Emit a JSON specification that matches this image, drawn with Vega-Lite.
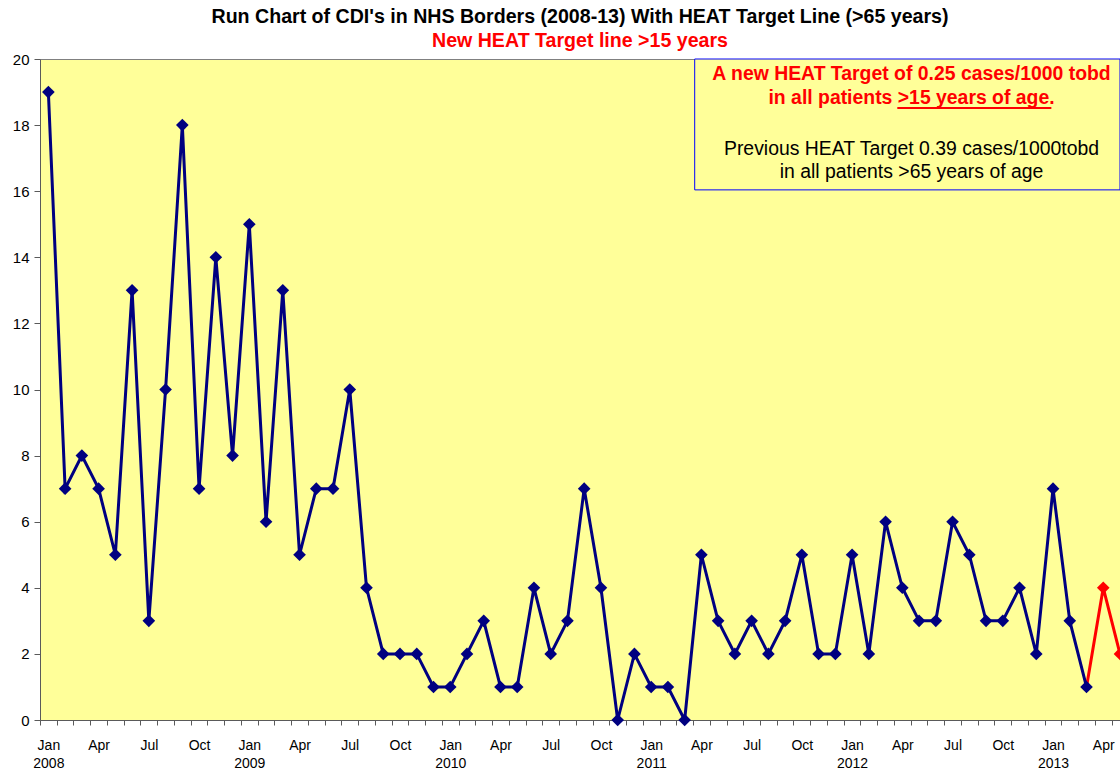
{
  "$schema": "https://vega.github.io/schema/vega-lite/v6.json",
  "width": 1080,
  "height": 661,
  "autosize": {"type": "none"},
  "padding": {"left": 40, "top": 59, "right": 0, "bottom": 50},
  "background": "white",
  "config": {
    "font": "Liberation Sans",
    "view": {"fill": "#FFFF99", "stroke": "#808080", "strokeWidth": 1},
    "axisX": {
      "title": null,
      "grid": false,
      "tickOffset": -8.37,
      "labelOffset": 8.37,
      "tickSize": 5,
      "tickColor": "#5a5a5a",
      "domainColor": "#5a5a5a",
      "labelFontSize": 14,
      "labelColor": "#000000",
      "labelPadding": 13,
      "labelLineHeight": 18,
      "labelOverlap": false,
      "labelFlush": false,
      "labelBound": false
    },
    "axisY": {
      "title": null,
      "grid": false,
      "tickSize": 6,
      "tickColor": "#5a5a5a",
      "domainColor": "#5a5a5a",
      "labelFontSize": 15,
      "labelColor": "#000000",
      "labelPadding": 5,
      "labelOverlap": false
    }
  },
  "title": {
    "text": "Run Chart of CDI's in NHS Borders (2008-13) With HEAT Target Line (>65 years)",
    "subtitle": "New HEAT Target line >15 years",
    "fontSize": 19.6,
    "fontWeight": "bold",
    "color": "#000000",
    "subtitleColor": "#FF0000",
    "subtitleFontSize": 19.6,
    "subtitleFontWeight": "bold",
    "subtitlePadding": 5,
    "anchor": "middle",
    "offset": 0
  },
  "datasets": {
    "cdi": [
      {"month": "2008-01", "month_index": 0, "cases": 19, "phase": "previous"},
      {"month": "2008-02", "month_index": 1, "cases": 7, "phase": "previous"},
      {"month": "2008-03", "month_index": 2, "cases": 8, "phase": "previous"},
      {"month": "2008-04", "month_index": 3, "cases": 7, "phase": "previous"},
      {"month": "2008-05", "month_index": 4, "cases": 5, "phase": "previous"},
      {"month": "2008-06", "month_index": 5, "cases": 13, "phase": "previous"},
      {"month": "2008-07", "month_index": 6, "cases": 3, "phase": "previous"},
      {"month": "2008-08", "month_index": 7, "cases": 10, "phase": "previous"},
      {"month": "2008-09", "month_index": 8, "cases": 18, "phase": "previous"},
      {"month": "2008-10", "month_index": 9, "cases": 7, "phase": "previous"},
      {"month": "2008-11", "month_index": 10, "cases": 14, "phase": "previous"},
      {"month": "2008-12", "month_index": 11, "cases": 8, "phase": "previous"},
      {"month": "2009-01", "month_index": 12, "cases": 15, "phase": "previous"},
      {"month": "2009-02", "month_index": 13, "cases": 6, "phase": "previous"},
      {"month": "2009-03", "month_index": 14, "cases": 13, "phase": "previous"},
      {"month": "2009-04", "month_index": 15, "cases": 5, "phase": "previous"},
      {"month": "2009-05", "month_index": 16, "cases": 7, "phase": "previous"},
      {"month": "2009-06", "month_index": 17, "cases": 7, "phase": "previous"},
      {"month": "2009-07", "month_index": 18, "cases": 10, "phase": "previous"},
      {"month": "2009-08", "month_index": 19, "cases": 4, "phase": "previous"},
      {"month": "2009-09", "month_index": 20, "cases": 2, "phase": "previous"},
      {"month": "2009-10", "month_index": 21, "cases": 2, "phase": "previous"},
      {"month": "2009-11", "month_index": 22, "cases": 2, "phase": "previous"},
      {"month": "2009-12", "month_index": 23, "cases": 1, "phase": "previous"},
      {"month": "2010-01", "month_index": 24, "cases": 1, "phase": "previous"},
      {"month": "2010-02", "month_index": 25, "cases": 2, "phase": "previous"},
      {"month": "2010-03", "month_index": 26, "cases": 3, "phase": "previous"},
      {"month": "2010-04", "month_index": 27, "cases": 1, "phase": "previous"},
      {"month": "2010-05", "month_index": 28, "cases": 1, "phase": "previous"},
      {"month": "2010-06", "month_index": 29, "cases": 4, "phase": "previous"},
      {"month": "2010-07", "month_index": 30, "cases": 2, "phase": "previous"},
      {"month": "2010-08", "month_index": 31, "cases": 3, "phase": "previous"},
      {"month": "2010-09", "month_index": 32, "cases": 7, "phase": "previous"},
      {"month": "2010-10", "month_index": 33, "cases": 4, "phase": "previous"},
      {"month": "2010-11", "month_index": 34, "cases": 0, "phase": "previous"},
      {"month": "2010-12", "month_index": 35, "cases": 2, "phase": "previous"},
      {"month": "2011-01", "month_index": 36, "cases": 1, "phase": "previous"},
      {"month": "2011-02", "month_index": 37, "cases": 1, "phase": "previous"},
      {"month": "2011-03", "month_index": 38, "cases": 0, "phase": "previous"},
      {"month": "2011-04", "month_index": 39, "cases": 5, "phase": "previous"},
      {"month": "2011-05", "month_index": 40, "cases": 3, "phase": "previous"},
      {"month": "2011-06", "month_index": 41, "cases": 2, "phase": "previous"},
      {"month": "2011-07", "month_index": 42, "cases": 3, "phase": "previous"},
      {"month": "2011-08", "month_index": 43, "cases": 2, "phase": "previous"},
      {"month": "2011-09", "month_index": 44, "cases": 3, "phase": "previous"},
      {"month": "2011-10", "month_index": 45, "cases": 5, "phase": "previous"},
      {"month": "2011-11", "month_index": 46, "cases": 2, "phase": "previous"},
      {"month": "2011-12", "month_index": 47, "cases": 2, "phase": "previous"},
      {"month": "2012-01", "month_index": 48, "cases": 5, "phase": "previous"},
      {"month": "2012-02", "month_index": 49, "cases": 2, "phase": "previous"},
      {"month": "2012-03", "month_index": 50, "cases": 6, "phase": "previous"},
      {"month": "2012-04", "month_index": 51, "cases": 4, "phase": "previous"},
      {"month": "2012-05", "month_index": 52, "cases": 3, "phase": "previous"},
      {"month": "2012-06", "month_index": 53, "cases": 3, "phase": "previous"},
      {"month": "2012-07", "month_index": 54, "cases": 6, "phase": "previous"},
      {"month": "2012-08", "month_index": 55, "cases": 5, "phase": "previous"},
      {"month": "2012-09", "month_index": 56, "cases": 3, "phase": "previous"},
      {"month": "2012-10", "month_index": 57, "cases": 3, "phase": "previous"},
      {"month": "2012-11", "month_index": 58, "cases": 4, "phase": "previous"},
      {"month": "2012-12", "month_index": 59, "cases": 2, "phase": "previous"},
      {"month": "2013-01", "month_index": 60, "cases": 7, "phase": "previous"},
      {"month": "2013-02", "month_index": 61, "cases": 3, "phase": "previous"},
      {"month": "2013-03", "month_index": 62, "cases": 1, "phase": "previous"},
      {"month": "2013-04", "month_index": 63, "cases": 4, "phase": "new"},
      {"month": "2013-05", "month_index": 64, "cases": 2, "phase": "new"}
    ],
    "notes": [
      {"line": "A new HEAT Target of 0.25 cases/1000 tobd", "kind": "new", "pos_x": 51.55, "pos_y": 19.365},
      {"line": "in all patients >15 years of age.", "kind": "new", "pos_x": 51.55, "pos_y": 18.63},
      {"line": "Previous HEAT Target 0.39 cases/1000tobd", "kind": "previous", "pos_x": 51.55, "pos_y": 17.09},
      {"line": "in all patients >65 years of age", "kind": "previous", "pos_x": 51.55, "pos_y": 16.39}
    ]
  },
  "layer": [
    {
      "data": {"name": "cdi"},
      "transform": [{"filter": "datum.month >= '2013-03'"}],
      "mark": {"type": "line", "color": "#FF0000", "strokeWidth": 3},
      "encoding": {
        "x": {"field": "month_index", "type": "quantitative", "scale": {"domain": [-0.5, 64], "nice": false, "zero": false},
          "axis": {"values": [0,1,2,3,4,5,6,7,8,9,10,11,12,13,14,15,16,17,18,19,20,21,22,23,24,25,26,27,28,29,30,31,32,33,34,35,36,37,38,39,40,41,42,43,44,45,46,47,48,49,50,51,52,53,54,55,56,57,58,59,60,61,62,63,64],
            "labelExpr": "datum.value % 12 == 0 ? ['Jan', '' + (2008 + datum.value / 12)] : datum.value % 12 == 3 ? 'Apr' : datum.value % 12 == 6 ? 'Jul' : datum.value % 12 == 9 ? 'Oct' : ''"}},
        "y": {"field": "cases", "type": "quantitative", "scale": {"domain": [0, 20], "nice": false},
          "axis": {"values": [0, 2, 4, 6, 8, 10, 12, 14, 16, 18, 20]}}
      }
    },
    {
      "data": {"name": "cdi"},
      "transform": [{"filter": "datum.phase == 'previous'"}],
      "mark": {"type": "line", "color": "#000080", "strokeWidth": 3},
      "encoding": {
        "x": {"field": "month_index", "type": "quantitative",
          "axis": {"values": [0,1,2,3,4,5,6,7,8,9,10,11,12,13,14,15,16,17,18,19,20,21,22,23,24,25,26,27,28,29,30,31,32,33,34,35,36,37,38,39,40,41,42,43,44,45,46,47,48,49,50,51,52,53,54,55,56,57,58,59,60,61,62,63,64],
            "labelExpr": "datum.value % 12 == 0 ? ['Jan', '' + (2008 + datum.value / 12)] : datum.value % 12 == 3 ? 'Apr' : datum.value % 12 == 6 ? 'Jul' : datum.value % 12 == 9 ? 'Oct' : ''"}},
        "y": {"field": "cases", "type": "quantitative", "axis": {"values": [0, 2, 4, 6, 8, 10, 12, 14, 16, 18, 20]}}
      }
    },
    {
      "data": {"name": "cdi"},
      "mark": {"type": "point", "shape": "diamond", "filled": true, "size": 160, "opacity": 1},
      "encoding": {
        "x": {"field": "month_index", "type": "quantitative",
          "axis": {"values": [0,1,2,3,4,5,6,7,8,9,10,11,12,13,14,15,16,17,18,19,20,21,22,23,24,25,26,27,28,29,30,31,32,33,34,35,36,37,38,39,40,41,42,43,44,45,46,47,48,49,50,51,52,53,54,55,56,57,58,59,60,61,62,63,64],
            "labelExpr": "datum.value % 12 == 0 ? ['Jan', '' + (2008 + datum.value / 12)] : datum.value % 12 == 3 ? 'Apr' : datum.value % 12 == 6 ? 'Jul' : datum.value % 12 == 9 ? 'Oct' : ''"}},
        "y": {"field": "cases", "type": "quantitative", "axis": {"values": [0, 2, 4, 6, 8, 10, 12, 14, 16, 18, 20]}},
        "color": {
          "field": "phase",
          "type": "nominal",
          "scale": {"domain": ["previous", "new"], "range": ["#000080", "#FF0000"]},
          "legend": null
        }
      }
    },
    {
      "data": {"values": [{"x_from": 38.6, "x_to": 64, "y_from": 20, "y_to": 16.04}]},
      "mark": {"type": "rect", "fill": "#FFFF99", "stroke": "#0000FF", "strokeWidth": 1},
      "encoding": {
        "x": {"field": "x_from", "type": "quantitative",
          "axis": {"values": [0,1,2,3,4,5,6,7,8,9,10,11,12,13,14,15,16,17,18,19,20,21,22,23,24,25,26,27,28,29,30,31,32,33,34,35,36,37,38,39,40,41,42,43,44,45,46,47,48,49,50,51,52,53,54,55,56,57,58,59,60,61,62,63,64],
            "labelExpr": "datum.value % 12 == 0 ? ['Jan', '' + (2008 + datum.value / 12)] : datum.value % 12 == 3 ? 'Apr' : datum.value % 12 == 6 ? 'Jul' : datum.value % 12 == 9 ? 'Oct' : ''"}},
        "x2": {"field": "x_to"},
        "y": {"field": "y_from", "type": "quantitative", "axis": {"values": [0, 2, 4, 6, 8, 10, 12, 14, 16, 18, 20]}},
        "y2": {"field": "y_to"}
      }
    },
    {
      "data": {"name": "notes"},
      "transform": [{"filter": "datum.kind == 'new'"}],
      "mark": {"type": "text", "fontSize": 19.4, "fontWeight": "bold", "color": "#FF0000", "align": "center", "baseline": "alphabetic"},
      "encoding": {
        "x": {"field": "pos_x", "type": "quantitative",
          "axis": {"values": [0,1,2,3,4,5,6,7,8,9,10,11,12,13,14,15,16,17,18,19,20,21,22,23,24,25,26,27,28,29,30,31,32,33,34,35,36,37,38,39,40,41,42,43,44,45,46,47,48,49,50,51,52,53,54,55,56,57,58,59,60,61,62,63,64],
            "labelExpr": "datum.value % 12 == 0 ? ['Jan', '' + (2008 + datum.value / 12)] : datum.value % 12 == 3 ? 'Apr' : datum.value % 12 == 6 ? 'Jul' : datum.value % 12 == 9 ? 'Oct' : ''"}},
        "y": {"field": "pos_y", "type": "quantitative", "axis": {"values": [0, 2, 4, 6, 8, 10, 12, 14, 16, 18, 20]}},
        "text": {"field": "line"}
      }
    },
    {
      "data": {"name": "notes"},
      "transform": [{"filter": "datum.kind == 'previous'"}],
      "mark": {"type": "text", "fontSize": 19.4, "fontWeight": "normal", "color": "#000000", "align": "center", "baseline": "alphabetic"},
      "encoding": {
        "x": {"field": "pos_x", "type": "quantitative",
          "axis": {"values": [0,1,2,3,4,5,6,7,8,9,10,11,12,13,14,15,16,17,18,19,20,21,22,23,24,25,26,27,28,29,30,31,32,33,34,35,36,37,38,39,40,41,42,43,44,45,46,47,48,49,50,51,52,53,54,55,56,57,58,59,60,61,62,63,64],
            "labelExpr": "datum.value % 12 == 0 ? ['Jan', '' + (2008 + datum.value / 12)] : datum.value % 12 == 3 ? 'Apr' : datum.value % 12 == 6 ? 'Jul' : datum.value % 12 == 9 ? 'Oct' : ''"}},
        "y": {"field": "pos_y", "type": "quantitative", "axis": {"values": [0, 2, 4, 6, 8, 10, 12, 14, 16, 18, 20]}},
        "text": {"field": "line"}
      }
    },
    {
      "data": {"values": [{"x_from": 50.7, "x_to": 59.9, "y_at": 18.52}]},
      "mark": {"type": "rule", "color": "#FF0000", "strokeWidth": 2},
      "encoding": {
        "x": {"field": "x_from", "type": "quantitative",
          "axis": {"values": [0,1,2,3,4,5,6,7,8,9,10,11,12,13,14,15,16,17,18,19,20,21,22,23,24,25,26,27,28,29,30,31,32,33,34,35,36,37,38,39,40,41,42,43,44,45,46,47,48,49,50,51,52,53,54,55,56,57,58,59,60,61,62,63,64],
            "labelExpr": "datum.value % 12 == 0 ? ['Jan', '' + (2008 + datum.value / 12)] : datum.value % 12 == 3 ? 'Apr' : datum.value % 12 == 6 ? 'Jul' : datum.value % 12 == 9 ? 'Oct' : ''"}},
        "x2": {"field": "x_to"},
        "y": {"field": "y_at", "type": "quantitative", "axis": {"values": [0, 2, 4, 6, 8, 10, 12, 14, 16, 18, 20]}}
      }
    }
  ]
}
